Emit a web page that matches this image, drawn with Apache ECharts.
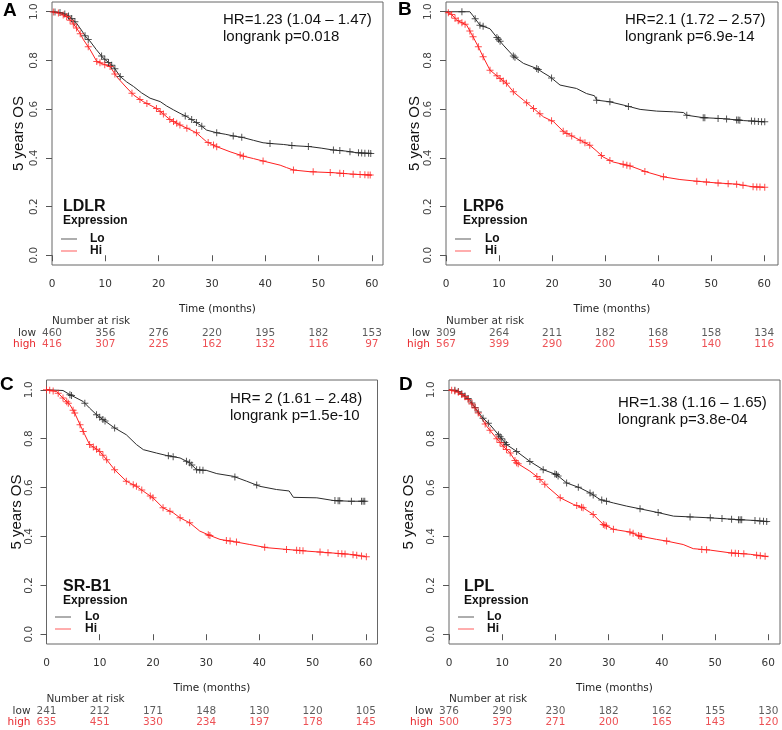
<!DOCTYPE html>
<html><head><meta charset="utf-8">
<script src="https://cdn.jsdelivr.net/npm/echarts@6/dist/echarts.min.js"></script>
<style>html,body{margin:0;padding:0;background:#fff}#c{width:782px;height:730px}</style>
</head><body><div id="c"></div>
<script>
// ---------- data ----------
const timeTicks = [0, 10, 20, 30, 40, 50, 60];
const survTicks = [0, 0.2, 0.4, 0.6, 0.8, 1.0];
const panelLetters = ['A', 'B', 'C', 'D'];
const genes = ['LDLR', 'LRP6', 'SR-B1', 'LPL'];
const hrLabels = ['HR=1.23 (1.04 \u2013 1.47)', 'HR=2.1 (1.72 \u2013 2.57)', 'HR= 2 (1.61 \u2013 2.48)', 'HR=1.38 (1.16 \u2013 1.65)'];
const pLabels = ['longrank p=0.018', 'longrank p=6.9e-14', 'longrank p=1.5e-10', 'longrank p=3.8e-04'];
const groupNames = ['Lo', 'Hi'];
const riskRows = ['high', 'low'];

// survival curves [time (months), survival]
const ldlrLo = [[0,1],[1.5,0.997],[2.75,0.988],[3.7,0.972],[4.6,0.953],[5.5,0.925],[6.5,0.892],[7.1,0.88],[8.3,0.845],[9.6,0.81],[10.6,0.792],[11.5,0.775],[12.8,0.734],[14,0.712],[15.3,0.693],[16.8,0.667],[18.4,0.645],[20.3,0.631],[21.5,0.613],[22.8,0.597],[24,0.583],[25.3,0.569],[26.5,0.553],[27.8,0.535],[29,0.514],[30.9,0.503],[32.5,0.497],[34,0.49],[35.9,0.483],[37.8,0.472],[39.6,0.462],[41.5,0.458],[43.4,0.455],[45.3,0.45],[48.4,0.446],[50.5,0.44],[52.8,0.432],[55,0.428],[57.2,0.421],[60,0.418]];
const ldlrHi = [[0,1],[1.5,0.993],[2.75,0.98],[3.7,0.958],[4.6,0.933],[5.3,0.91],[5.9,0.885],[7.1,0.846],[8.4,0.796],[9.6,0.785],[10.9,0.775],[12.1,0.734],[13.7,0.695],[15.3,0.658],[17.1,0.631],[19.6,0.603],[20.9,0.58],[22.1,0.558],[24,0.535],[25.5,0.52],[27.1,0.503],[28,0.485],[29,0.466],[30.9,0.446],[33.4,0.425],[35.9,0.407],[37.8,0.397],[39.6,0.387],[42.8,0.37],[44,0.36],[45.3,0.35],[48.4,0.343],[52.8,0.339],[56.5,0.333],[60,0.329]];
const lrp6Lo = [[0,1],[4.5,1.0],[5,0.986],[6.4,0.945],[8.3,0.93],[9.5,0.897],[10.8,0.863],[12.7,0.818],[14.6,0.788],[17.1,0.767],[18.3,0.75],[19.6,0.733],[21.5,0.699],[23,0.692],[24.6,0.685],[26.5,0.664],[28,0.655],[28.4,0.637],[30.9,0.63],[33.4,0.617],[35,0.608],[36.6,0.599],[39.7,0.592],[42.9,0.589],[44.8,0.586],[45.4,0.575],[48.5,0.565],[52.3,0.561],[56.1,0.553],[60.1,0.548]];
const lrp6Hi = [[0,1],[1,0.99],[2,0.966],[3.9,0.945],[5.1,0.897],[6.1,0.856],[7,0.815],[8.3,0.76],[10.2,0.726],[11.4,0.706],[12.7,0.671],[14.6,0.637],[16.5,0.603],[18.4,0.568],[20.3,0.548],[22.2,0.507],[24.7,0.479],[27.1,0.452],[28.3,0.43],[29.6,0.404],[31.5,0.383],[34.7,0.367],[37.8,0.342],[41,0.322],[44.1,0.311],[47.3,0.304],[51,0.297],[54.8,0.292],[57.9,0.281],[60.1,0.279]];
const srb1Lo = [[0,1],[3.1,0.997],[4.4,0.98],[6.9,0.952],[8.1,0.925],[9.4,0.898],[10.6,0.878],[12.8,0.844],[15,0.816],[16.9,0.776],[18.2,0.755],[20.7,0.741],[22.6,0.731],[25.1,0.721],[26.9,0.701],[28.2,0.673],[30.1,0.67],[32,0.657],[35.1,0.646],[37.6,0.626],[40.1,0.605],[43.2,0.592],[45.6,0.586],[46.4,0.56],[50.8,0.558],[53.9,0.547],[57,0.544],[59.8,0.544]];
const srb1Hi = [[0,1],[1.9,0.993],[3.1,0.966],[4.4,0.939],[5.3,0.905],[6.3,0.857],[7.2,0.816],[8.1,0.776],[10,0.748],[11.3,0.714],[12.8,0.673],[15,0.626],[16.9,0.605],[18.2,0.585],[20,0.558],[21.9,0.517],[23.8,0.497],[25.1,0.476],[26.9,0.456],[28.8,0.422],[30.7,0.404],[32.6,0.388],[35.7,0.377],[38.2,0.367],[41.4,0.354],[45.1,0.347],[48.9,0.34],[53.3,0.333],[57,0.327],[60.1,0.317]];
const lplLo = [[0,1],[1.5,0.997],[2.7,0.98],[3.9,0.959],[5.2,0.918],[6.4,0.884],[7.7,0.857],[9.3,0.816],[10.8,0.776],[12.7,0.748],[15.2,0.707],[17.7,0.673],[20.2,0.653],[22.1,0.619],[24.6,0.599],[26.5,0.578],[28.4,0.551],[30.9,0.537],[33.4,0.524],[35.9,0.513],[39,0.499],[42.2,0.483],[45.3,0.48],[49.1,0.476],[54.1,0.469],[57.8,0.465],[60,0.46]];
const lplHi = [[0,1],[1.5,0.993],[3.4,0.966],[4.9,0.925],[6.1,0.884],[7.1,0.85],[8.9,0.802],[10.2,0.769],[11.5,0.741],[12.7,0.701],[15.2,0.667],[16.8,0.64],[18.4,0.605],[20.9,0.558],[23.4,0.531],[25.2,0.517],[27.1,0.49],[29,0.449],[30.9,0.429],[34,0.418],[35.9,0.401],[39,0.388],[40.9,0.381],[44,0.367],[45.9,0.35],[49.1,0.344],[52.8,0.333],[56.6,0.327],[60,0.317]];

// censoring times (months)
const ldlrLoCens = [0.56,1.5,2.4,3.1,3.7,4.3,6.2,6.8,9.3,9.9,10.6,11.2,11.8,12.8,25,26.2,27.1,28.1,30.9,34,35.6,40.9,45,48.1,52.8,54,55.9,57.5,58.1,58.7,59.4,59.8];
const ldlrHiCens = [0.25,1.2,2.1,2.75,3.4,4,4.6,5.3,6.8,8.4,9,9.9,10.9,11.8,15,16.5,17.8,19.6,20.3,20.9,22.1,22.8,23.4,24,25.3,27.1,29.3,30.3,30.9,35.3,35.9,39.6,45.3,49,52.2,54,54.7,56.5,57.8,58.7,59.3,59.7];
const lrp6LoCens = [3,5.5,6.4,7,9.6,9.9,10.2,12.7,13,17.1,17.4,19.9,28.4,30.9,34.4,45.4,48.5,48.8,51.3,52.9,54.8,55.1,55.4,57.6,58.2,58.9,59.5,60.1];
const lrp6HiCens = [0.44,1.07,1.7,2.3,3,3.6,4.5,5.1,6.1,7,8.3,9.6,10.2,10.8,11.4,12.7,15.2,16.5,17.7,19.9,22.1,22.8,23.7,25.3,26.2,27.1,29.3,30.9,33.4,34.1,34.7,37.5,41,47.3,49.1,51.3,53.2,54.8,56,57.9,58.6,59.2,60.1];
const srb1LoCens = [4.4,4.7,7.2,9.4,10,10.6,11,12.8,22.9,23.8,26.3,26.9,27.3,28.2,28.8,29.4,35.4,39.5,54.2,54.8,55.1,57.3,59.2,59.5,59.8];
const srb1HiCens = [0,0.6,1.25,2.2,3.1,3.8,4.1,5,5.3,6.3,6.9,8.1,8.8,9.4,10,10.6,11.3,12.8,15,16.3,16.9,17.9,19.5,20,21.9,23.2,25.1,26.9,30.4,30.7,33.8,34.5,35.7,41,45.1,47,47.6,48.2,51.4,52.9,54.8,55.5,56.1,57.6,58.3,59.2,60.1];
const lplLoCens = [1.1,1.75,2.4,3,3.6,4.3,4.9,5.5,6.4,7.4,9.3,9.6,9.9,10.5,10.8,12.7,15.2,17.7,19.9,20.2,20.5,22.1,24.3,26.5,27.1,28.7,29.6,35.9,39.3,45.3,49.1,51.3,53.1,54.4,54.7,55,57.5,58.4,59.1,59.7];
const lplHiCens = [0.5,1.1,1.75,2.4,3,3.6,4.3,4.9,5.5,6.8,7.7,9,9.6,10.2,10.8,11.5,12.4,12.7,13,16.5,17.1,18,20.9,24,24.9,25.2,27.1,29,29.3,29.6,30.9,34,34.6,35.6,35.9,36.2,40.9,47.5,48.4,53.1,53.8,54.4,55.4,57.8,58.5,59.4];

// numbers at risk at timeTicks
const ldlrRiskLow = [460, 356, 276, 220, 195, 182, 153];
const ldlrRiskHigh = [416, 307, 225, 162, 132, 116, 97];
const lrp6RiskLow = [309, 264, 211, 182, 168, 158, 134];
const lrp6RiskHigh = [567, 399, 290, 200, 159, 140, 116];
const srb1RiskLow = [241, 212, 171, 148, 130, 120, 105];
const srb1RiskHigh = [635, 451, 330, 234, 197, 178, 145];
const lplRiskLow = [376, 290, 230, 182, 162, 155, 130];
const lplRiskHigh = [500, 373, 271, 200, 165, 143, 120];

// ---------- layout ----------
const LO = '#2b2b2b', HI = '#ff2020', REDTXT = '#e8262b';
const TICKFONT = 'DejaVu Sans', ARIAL = 'Liberation Sans';
const layout = [
  {left: 52, top: 2, width: 331, height: 263, xmax: 62.1, riskTop: 327.5, lx: 3, ly: 11, hx: 223, hy: 20, gx: 63, gy: 207, legX: 61, legY: 233, legTx: 90, nameGapY: 26},
  {left: 446, top: 2, width: 332, height: 263, xmax: 62.6, riskTop: 327.5, lx: 398, ly: 10, hx: 625, hy: 20, gx: 463, gy: 207, legX: 455, legY: 233, legTx: 485, nameGapY: 24},
  {left: 46.5, top: 380, width: 331, height: 264, xmax: 62.2, riskTop: 705.5, lx: 0, ly: 385, hx: 230, hy: 399, gx: 63, gy: 587, legX: 55, legY: 611, legTx: 85, nameGapY: 22},
  {left: 449, top: 380, width: 331, height: 264, xmax: 62.2, riskTop: 705.5, lx: 399, ly: 385, hx: 618, hy: 403, gx: 464, gy: 587, legX: 458, legY: 611, legTx: 487, nameGapY: 33}
];
const curves = [[ldlrLo, ldlrHi], [lrp6Lo, lrp6Hi], [srb1Lo, srb1Hi], [lplLo, lplHi]];
const censors = [[ldlrLoCens, ldlrHiCens], [lrp6LoCens, lrp6HiCens], [srb1LoCens, srb1HiCens], [lplLoCens, lplHiCens]];
const risks = [[ldlrRiskLow, ldlrRiskHigh], [lrp6RiskLow, lrp6RiskHigh], [srb1RiskLow, srb1RiskHigh], [lplRiskLow, lplRiskHigh]];

// value of the drawn curve at time t (mark placed on the line)
function curveAt(curve, t) {
  if (t <= curve[0][0]) return curve[0][1];
  for (let k = 1; k < curve.length; k++) {
    const a = curve[k - 1], b = curve[k];
    if (t <= b[0]) return b[0] === a[0] ? b[1] : a[1] + (b[1] - a[1]) * (t - a[0]) / (b[0] - a[0]);
  }
  return curve[curve.length - 1][1];
}
const PLUS = 'path://M3,0H4V7H3ZM0,3H7V4H0Z';

const grid = [], xAxis = [], yAxis = [], series = [], legend = [], graphic = [];
layout.forEach((p, i) => {
  const gi = 2 * i, ri = 2 * i + 1;
  grid.push({left: p.left, top: p.top, width: p.width, height: p.height, show: true, borderColor: '#666', borderWidth: 1, backgroundColor: 'transparent'});
  grid.push({left: p.left, top: p.riskTop, width: p.width, height: 22, show: false});
  xAxis.push({type: 'value', gridIndex: gi, min: 0, max: p.xmax,
    axisLine: {show: false}, splitLine: {show: false},
    axisTick: {show: true, customValues: timeTicks, length: 6, lineStyle: {color: '#555'}},
    axisLabel: {customValues: timeTicks, margin: 14, fontFamily: TICKFONT, fontSize: 10.5, color: '#333'},
    name: 'Time (months)', nameLocation: 'middle', nameGap: 39, nameMoveOverlap: false,
    nameTextStyle: {fontFamily: TICKFONT, fontSize: 10.5, color: '#222'}});
  xAxis.push({type: 'value', gridIndex: ri, min: 0, max: p.xmax, show: false});
  yAxis.push({type: 'value', gridIndex: gi, min: -0.04, max: 1.04,
    axisLine: {show: false}, splitLine: {show: false},
    axisTick: {show: true, customValues: survTicks, length: 6, lineStyle: {color: '#555'}},
    axisLabel: {customValues: survTicks, formatter: v => v.toFixed(1), rotate: 90, margin: 12, fontFamily: TICKFONT, fontSize: 10.5, color: '#444'},
    name: '5 years OS', nameLocation: 'middle', nameGap: p.nameGapY, nameMoveOverlap: false,
    nameTextStyle: {fontFamily: ARIAL, fontSize: 15, color: '#111'}});
  yAxis.push({type: 'category', gridIndex: ri, data: riskRows,
    axisLine: {show: false}, axisTick: {show: false}, splitLine: {show: false},
    axisLabel: {interval: 0, hideOverlap: false, margin: 16, fontFamily: TICKFONT, fontSize: 10.5, color: v => v === 'high' ? REDTXT : '#333'}});

  const cols = [LO, HI];
  [0, 1].forEach(g => {
    series.push({type: 'line', name: groupNames[g], xAxisIndex: gi, yAxisIndex: gi, data: curves[i][g],
      showSymbol: false, symbol: 'none', silent: true, z: 3,
      lineStyle: {width: 1, color: cols[g]}, itemStyle: {color: cols[g]}});
    series.push({type: 'scatter', name: groupNames[g] + ' censored', xAxisIndex: gi, yAxisIndex: gi,
      data: censors[i][g].map(t => [t, curveAt(curves[i][g], t)]),
      symbol: PLUS, symbolSize: 7, silent: true, z: 4, itemStyle: {color: cols[g]}});
    series.push({type: 'scatter', xAxisIndex: ri, yAxisIndex: ri,
      data: timeTicks.map((t, k) => [t, g === 0 ? 'low' : 'high', risks[i][g][k]]),
      symbolSize: 1, silent: true, itemStyle: {color: 'rgba(0,0,0,0)'},
      label: {show: true, position: 'inside', formatter: d => String(d.value[2]),
        fontFamily: TICKFONT, fontSize: 10.5, color: g === 0 ? '#333' : REDTXT}});
  });

  legend.push({orient: 'vertical', left: p.legX, top: p.legY, padding: 0, itemGap: 0,
    icon: 'rect', itemWidth: 16, itemHeight: 1.2, selectedMode: false,
    data: [{name: 'Lo', itemStyle: {color: '#777'}}, {name: 'Hi', itemStyle: {color: '#f77'}}],
    textStyle: {fontFamily: ARIAL, fontWeight: 'bold', fontSize: 12, lineHeight: 12, color: '#111', padding: [0, 0, 0, p.legTx - p.legX - 21]}});

  graphic.push({type: 'text', x: p.lx, y: p.ly, style: {text: panelLetters[i], font: 'bold 19px "Liberation Sans"', fill: '#000', verticalAlign: 'middle'}});
  graphic.push({type: 'text', x: p.hx, y: p.hy, style: {text: hrLabels[i], font: '15px "Liberation Sans"', fill: '#111', verticalAlign: 'middle'}});
  graphic.push({type: 'text', x: p.hx, y: p.hy + 17, style: {text: pLabels[i], font: '15px "Liberation Sans"', fill: '#111', verticalAlign: 'middle'}});
  graphic.push({type: 'text', x: p.gx, y: p.gy, style: {text: genes[i], font: 'bold 16px "Liberation Sans"', fill: '#111', verticalAlign: 'middle'}});
  graphic.push({type: 'text', x: p.gx, y: p.gy + 14, style: {text: 'Expression', font: 'bold 12px "Liberation Sans"', fill: '#111', verticalAlign: 'middle'}});
  graphic.push({type: 'text', x: p.left, y: p.riskTop - 6, style: {text: 'Number at risk', font: '10.5px "DejaVu Sans"', fill: '#333', verticalAlign: 'middle'}});
});

const chart = echarts.init(document.getElementById('c'), null, {renderer: 'canvas'});
chart.setOption({animation: false, backgroundColor: '#fff', grid, xAxis, yAxis, series, legend, graphic});
</script></body></html>
